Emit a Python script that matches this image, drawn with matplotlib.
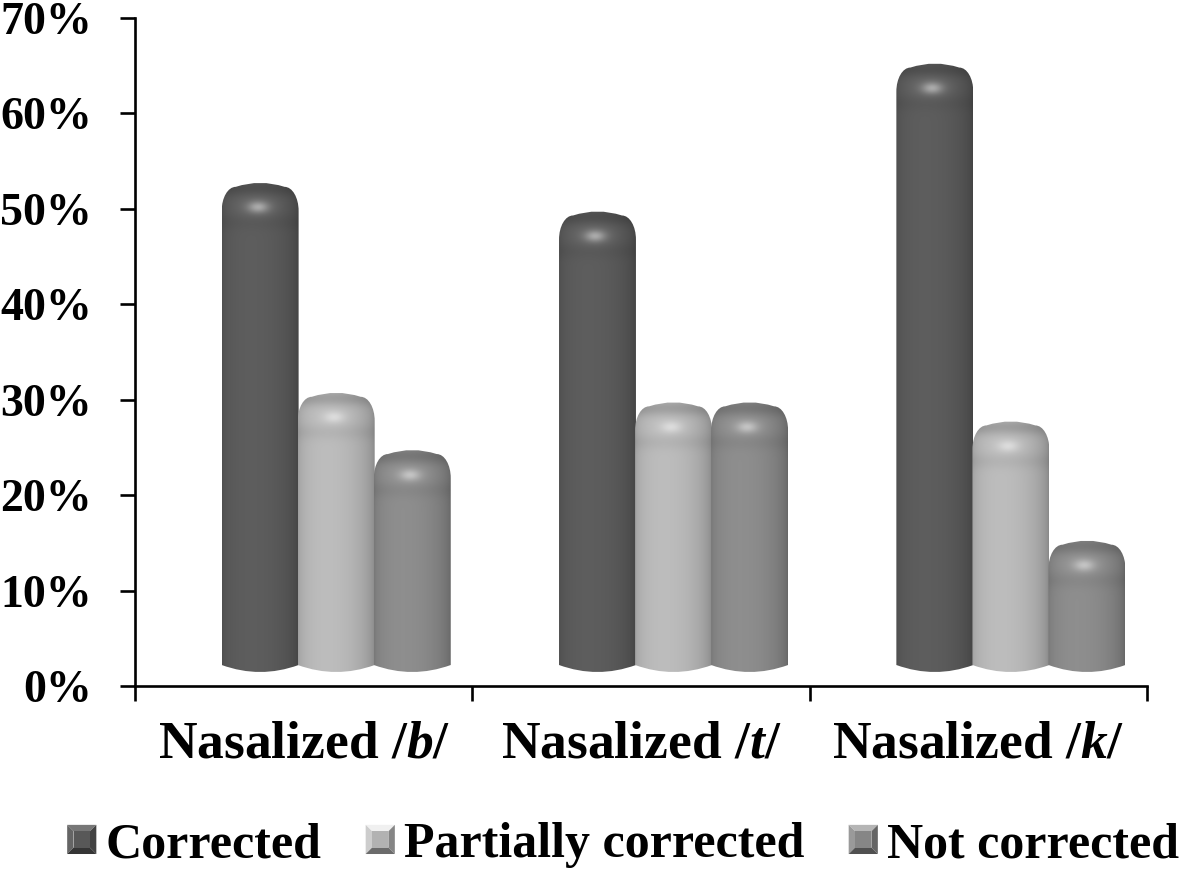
import numpy as np
import matplotlib
matplotlib.use("Agg")
import matplotlib.pyplot as plt
from matplotlib.path import Path
from matplotlib.patches import PathPatch, Polygon, Rectangle
from matplotlib.legend_handler import HandlerBase

# ---------------- data ----------------
categories = ["Nasalized $\\mathit{/b/}$", "Nasalized $\\mathit{/t/}$", "Nasalized $\\mathit{/k/}$"]
series_names = ["Corrected", "Partially corrected", "Not corrected"]
corrected = [50, 47, 62.5]
partially_corrected = [28, 27, 25]
not_corrected = [22, 27, 12.5]
y_ticks = [0, 10, 20, 30, 40, 50, 60, 70]
y_tick_labels = ["0%", "10%", "20%", "30%", "40%", "50%", "60%", "70%"]

series_values = [corrected, partially_corrected, not_corrected]
series_gray = [88, 178, 134]          # base gray level of each series

# ---------------- fonts ----------------
plt.rcParams["font.family"] = ["Liberation Serif", "DejaVu Serif"]
plt.rcParams["font.weight"] = "bold"
plt.rcParams["mathtext.fontset"] = "custom"
plt.rcParams["mathtext.rm"] = "Liberation Serif:bold"
plt.rcParams["mathtext.it"] = "Liberation Serif:italic:bold"
plt.rcParams["mathtext.bf"] = "Liberation Serif:bold"

W_PX, H_PX = 1181, 874
fig = plt.figure(figsize=(W_PX / 100, H_PX / 100), dpi=100)
ax_l, ax_b, ax_w, ax_h = 135, 188, 1012, 668
ax = fig.add_axes([ax_l / W_PX, ax_b / H_PX, ax_w / W_PX, ax_h / H_PX])
ax.set_xlim(-0.5, 2.5)
ax.set_ylim(0, 70)

sx = ax_w / 3.0      # px per x unit
sy = ax_h / 70.0     # px per y unit

BAR_W = 0.228
OFFSETS = [-0.129, 0.0965, 0.322]

# geometry (in px converted to data units)
rx = 14 / sx
ry = 24 / sy
top_lift = 22 / sy
top_bulge = 4 / sy
floor = 21 / sy
bot_bulge = 7 / sy
K = 0.5523

x_idx = np.arange(len(categories))


def shade_image(w_px, h_px, gray):
    u = (np.arange(w_px) + 0.5) / w_px
    d = np.arange(h_px) + 0.5
    U, D = np.meshgrid(u, d)
    theta = np.arcsin(np.clip(2 * U - 1, -0.999, 0.999))
    body = 0.80 + 0.26 * np.cos(theta + 0.25)
    c = gray * body
    # dark rim at top of the cap
    c = c * (1 - 0.16 * np.exp(-((D - 6) / 8.0) ** 2))
    # slight darkening at the bottom of the dome
    c = c * (1 - 0.05 * np.exp(-((D - 40) / 8.0) ** 2))
    # highlight spot
    hl = np.exp(-(((U - 0.47) / 0.13) ** 2) - ((D - 25) / 5.5) ** 2)
    c = c + (255 - c) * 0.42 * hl
    # soft glow around cap
    glow = np.exp(-(((U - 0.47) / 0.28) ** 2) - ((D - 24) / 11.0) ** 2)
    c = c + (255 - c) * 0.10 * glow
    c = np.clip(c, 0, 255) / 255.0
    return np.dstack([c, c, c])


z = 2
for j, (vals, gray) in enumerate(zip(series_values, series_gray)):
    bars = ax.bar(x_idx + OFFSETS[j], vals, width=BAR_W, visible=False)
    for rect in bars:
        x0 = rect.get_x()
        x1 = x0 + rect.get_width()
        xc = (x0 + x1) / 2
        v = rect.get_height()
        yt = v + top_lift
        yb = floor
        verts = [
            (x0, yb),
            (x0, yt - ry),
            (x0, yt - ry + K * ry), (x0 + rx - K * rx, yt), (x0 + rx, yt),
            (xc, yt + 2 * top_bulge), (x1 - rx, yt),
            (x1 - rx + K * rx, yt), (x1, yt - ry + K * ry), (x1, yt - ry),
            (x1, yb),
            (xc, yb - 2 * bot_bulge), (x0, yb),
            (x0, yb),
        ]
        codes = [Path.MOVETO, Path.LINETO,
                 Path.CURVE4, Path.CURVE4, Path.CURVE4,
                 Path.CURVE3, Path.CURVE3,
                 Path.CURVE4, Path.CURVE4, Path.CURVE4,
                 Path.LINETO,
                 Path.CURVE3, Path.CURVE3,
                 Path.CLOSEPOLY]
        path = Path(verts, codes)
        patch = PathPatch(path, transform=ax.transData, facecolor="none", edgecolor="none")
        ax.add_patch(patch)
        top = yt + top_bulge
        bottom = yb - bot_bulge
        w_px = max(2, int(round((x1 - x0) * sx)))
        h_px = max(2, int(round((top - bottom) * sy)))
        img = shade_image(w_px, h_px, gray)
        im = ax.imshow(img, extent=[x0, x1, bottom, top], origin="upper",
                       aspect="auto", interpolation="bilinear", zorder=z)
        im.set_clip_path(patch)
        z += 1

ax.set_xlim(-0.5, 2.5)
ax.set_ylim(0, 70)

# ---------------- axes styling ----------------
for s in ["top", "right"]:
    ax.spines[s].set_visible(False)
for s in ["left", "bottom"]:
    ax.spines[s].set_linewidth(1.9)
    ax.spines[s].set_color("black")
    ax.spines[s].set_zorder(50)

ax.set_yticks(y_ticks)
ax.set_yticklabels(y_tick_labels, fontsize=33, fontweight="bold")
ax.tick_params(axis="y", direction="out", length=11, width=1.9, pad=20)

ax.set_xticks(x_idx)
ax.set_xticklabels(categories, fontsize=38.5, fontweight="bold")
ax.tick_params(axis="x", which="major", length=0, pad=25)
ax.set_xticks([-0.5, 0.5, 1.5, 2.5], minor=True)
ax.tick_params(axis="x", which="minor", direction="out", length=11, width=1.9)


# ---------------- legend ----------------
class BevelHandle:
    def __init__(self, gray):
        self.gray = gray


class BevelHandler(HandlerBase):
    def create_artists(self, legend, orig_handle, xdescent, ydescent,
                       width, height, fontsize, trans):
        g = orig_handle.gray / 255.0
        s = height
        x0 = -xdescent + (width - s) / 2
        y0 = -ydescent
        x1, y1 = x0 + s, y0 + s
        b = s * 0.22
        ix0, iy0, ix1, iy1 = x0 + b, y0 + b, x1 - b, y1 - b

        def col(f):
            v = min(1, max(0, g * f))
            return (v, v, v)
        arts = [
            Polygon([(x0, y1), (x1, y1), (ix1, iy1), (ix0, iy1)], closed=True,
                    facecolor=col(1.35), edgecolor="none", transform=trans),
            Polygon([(x0, y0), (x0, y1), (ix0, iy1), (ix0, iy0)], closed=True,
                    facecolor=col(1.15), edgecolor="none", transform=trans),
            Polygon([(x1, y0), (x1, y1), (ix1, iy1), (ix1, iy0)], closed=True,
                    facecolor=col(0.75), edgecolor="none", transform=trans),
            Polygon([(x0, y0), (x1, y0), (ix1, iy0), (ix0, iy0)], closed=True,
                    facecolor=col(0.6), edgecolor="none", transform=trans),
            Rectangle((ix0, iy0), ix1 - ix0, iy1 - iy0, facecolor=col(1.0),
                      edgecolor="none", transform=trans),
        ]
        return arts


handles = [BevelHandle(g) for g in series_gray]
leg = fig.legend(handles, series_names, loc="center",
                 bbox_to_anchor=(0.528, 0.033), ncol=3, frameon=False,
                 handler_map={BevelHandle: BevelHandler()},
                 prop={"family": ["Liberation Serif"], "weight": "bold", "size": 36},
                 handlelength=0.55, handleheight=0.52, handletextpad=0.2,
                 columnspacing=0.9)

fig.savefig("out.png", dpi=100)
